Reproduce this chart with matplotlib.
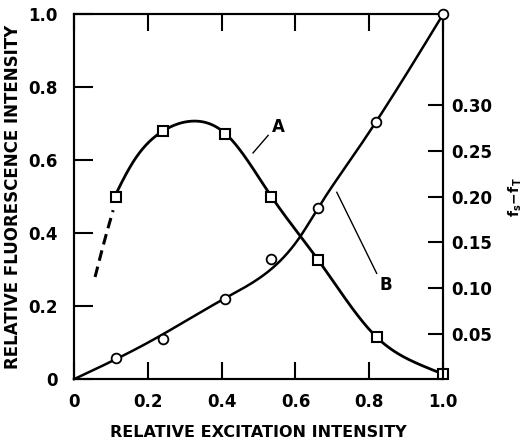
import numpy as np
import matplotlib
matplotlib.use("Agg")
import matplotlib.pyplot as plt

# curve A (squares), left axis: relative fluorescence intensity
a_x = [0.114, 0.241, 0.41, 0.535, 0.662, 0.82, 1.0]
a_y = [0.50, 0.68, 0.673, 0.50, 0.326, 0.115, 0.014]
a_line_x = [0.105, 0.16, 0.241, 0.32, 0.41, 0.535, 0.662, 0.82, 0.93, 1.0]
a_line_y = [0.49, 0.595, 0.68, 0.707, 0.673, 0.50, 0.326, 0.115, 0.043, 0.014]
a_dash_x = [0.057, 0.08, 0.106]
a_dash_y = [0.28, 0.37, 0.463]

# curve B (circles), right axis: fs - fT
b_x = [0.114, 0.24, 0.41, 0.535, 0.662, 0.817, 1.0]
b_y = [0.023, 0.044, 0.088, 0.132, 0.188, 0.282, 0.400]
b_line_x = [0.0, 0.20, 0.415, 0.52, 0.614, 0.662, 0.767, 1.0]
b_line_y = [0.0, 0.040, 0.090, 0.116, 0.157, 0.188, 0.251, 0.400]

x_ticks = [0, 0.2, 0.4, 0.6, 0.8, 1.0]
x_labels = ["0", "0.2", "0.4", "0.6", "0.8", "1.0"]
y_ticks = [0, 0.2, 0.4, 0.6, 0.8, 1.0]
y_labels = ["0", "0.2", "0.4", "0.6", "0.8", "1.0"]
r_ticks = [0.05, 0.10, 0.15, 0.20, 0.25, 0.30]
r_labels = ["0.05", "0.10", "0.15", "0.20", "0.25", "0.30"]


def smooth(xs, ys, n=300):
    # natural cubic spline through the traced points, only to draw a smooth line
    x = np.asarray(xs, float)
    y = np.asarray(ys, float)
    k = len(x)
    h = np.diff(x)
    A = np.zeros((k, k))
    r = np.zeros(k)
    A[0, 0] = A[-1, -1] = 1
    for i in range(1, k - 1):
        A[i, i - 1] = h[i - 1]
        A[i, i] = 2 * (h[i - 1] + h[i])
        A[i, i + 1] = h[i]
        r[i] = 6 * ((y[i + 1] - y[i]) / h[i] - (y[i] - y[i - 1]) / h[i - 1])
    m = np.linalg.solve(A, r)
    xx = np.linspace(x[0], x[-1], n)
    j = np.clip(np.searchsorted(x, xx) - 1, 0, k - 2)
    t0 = x[j + 1] - xx
    t1 = xx - x[j]
    hj = h[j]
    yy = (m[j] * t0 ** 3 / (6 * hj) + m[j + 1] * t1 ** 3 / (6 * hj)
          + (y[j] / hj - m[j] * hj / 6) * t0 + (y[j + 1] / hj - m[j + 1] * hj / 6) * t1)
    return xx, yy


plt.rcParams["font.family"] = "DejaVu Sans"
plt.rcParams["font.weight"] = "bold"

fig = plt.figure(figsize=(5.25, 4.44), dpi=100)
ax = fig.add_axes([0.141, 0.146, 0.703, 0.822])
ax2 = ax.twinx()

ax.set_xlim(0, 1.0)
ax.set_ylim(0, 1.0)
ax2.set_ylim(0, 0.40)

sx, sy = smooth(a_line_x, a_line_y)
ax.plot(sx, sy, color="black", lw=2.0, clip_on=False)
sx, sy = smooth(a_dash_x, a_dash_y)
ax.plot(sx, sy, color="black", lw=2.2, ls=(0, (3.5, 2.0)))
ax.plot(a_x, a_y, ls="none", marker="s", ms=7, mfc="white", mec="black",
        mew=1.5, clip_on=False, zorder=5)

sx, sy = smooth(b_line_x, b_line_y)
ax2.plot(sx, sy, color="black", lw=1.8, clip_on=False)
ax2.plot(b_x, b_y, ls="none", marker="o", ms=7, mfc="white", mec="black",
         mew=1.3, clip_on=False, zorder=5)

# labels with leader lines
ax.plot([0.485, 0.526], [0.62, 0.668], color="black", lw=1.0)
ax.text(0.553, 0.69, "A", fontsize=12, fontweight="bold", ha="center", va="center")
ax.plot([0.712, 0.82], [0.512, 0.29], color="black", lw=1.0)
ax.text(0.845, 0.258, "B", fontsize=12, fontweight="bold", ha="center", va="center")

ax.set_xticks(x_ticks)
ax.set_xticklabels(x_labels, fontsize=12, fontweight="bold")
ax.set_yticks(y_ticks)
ax.set_yticklabels(y_labels, fontsize=12, fontweight="bold")
ax2.set_yticks(r_ticks)
ax2.set_yticklabels(r_labels, fontsize=12, fontweight="bold")

ax.tick_params(axis="x", direction="in", length=12, width=1.5, top=True, pad=10)
ax.tick_params(axis="y", direction="in", length=14, width=1.5, pad=12)
ax2.tick_params(axis="y", direction="in", length=11, width=1.5, pad=6)

for a in (ax, ax2):
    for s in a.spines.values():
        s.set_linewidth(1.5)

ax.set_xlabel("RELATIVE EXCITATION INTENSITY", fontsize=11.5, fontweight="bold",
              labelpad=10)
ax.set_ylabel("RELATIVE FLUORESCENCE INTENSITY", fontsize=12, fontweight="bold",
              labelpad=4)
ax2.set_ylabel(r"$\mathbf{f_s\!-\!f_T}$", fontsize=10, rotation=90, labelpad=10)

fig.savefig("out.png", dpi=100)
